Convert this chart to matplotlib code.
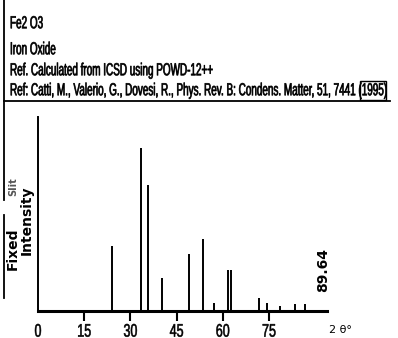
import matplotlib
matplotlib.use("Agg")
import matplotlib.pyplot as plt
from matplotlib import patheffects
from matplotlib.transforms import Affine2D

# Fe2O3 reference pattern (2-theta in degrees, relative intensity)
two_theta = [24.1, 33.6, 35.6, 40.3, 49.0, 53.5, 57.3, 61.6, 62.6,
             71.6, 74.2, 78.6, 83.5, 86.7]
intensity = [40, 100, 77, 20, 35, 44, 5, 25, 25, 8, 5, 3, 4, 4]
tick_values = [0, 15, 30, 45, 60, 75]
header_lines = [
    "Fe2 O3",
    "Iron Oxide",
    "Ref. Calculated from ICSD using POWD-12++",
    "Ref: Catti, M., Valerio, G., Dovesi, R., Phys. Rev. B: Condens. Matter, 51, 7441 (1995)",
]
peak_label = "89.64"


class Stretch(patheffects.AbstractPathEffect):
    """Scale the glyphs about a fixed display point (tall, narrow lettering)."""

    def __init__(self, sx, sy, anchor, stroke=0.0):
        super().__init__()
        self.sx, self.sy = sx, sy
        self.anchor = anchor
        self.stroke = stroke

    def draw_path(self, renderer, gc, tpath, affine, rgbFace=None):
        ax_, ay_ = self.anchor
        extra = (Affine2D().translate(-ax_, -ay_)
                 .scale(self.sx, self.sy).translate(ax_, ay_))
        renderer.draw_path(gc, tpath, affine + extra, rgbFace)
        if self.stroke > 0:
            gc0 = renderer.new_gc()
            gc0.copy_properties(gc)
            gc0.set_linewidth(self.stroke)
            renderer.draw_path(gc0, tpath, affine + extra, None)
            gc0.restore()


W, H = 398, 338
fig = plt.figure(figsize=(W / 100, H / 100), dpi=100)
fig.patch.set_facecolor("white")

# overlay axes in pixel coordinates (y downwards) for the page furniture
page = fig.add_axes([0, 0, 1, 1])
page.set_xlim(0, W)
page.set_ylim(H, 0)
page.axis("off")

# plot area: x=0 deg at px 38, 3.08 px per degree; baseline at px 311
px_per_deg = 3.08
x0_px, x1_px = 38, 327
base_px, top_px = 311, 117
ymax = 119
ax = fig.add_axes([x0_px / W, (H - base_px) / H,
                   (x1_px - x0_px) / W, (base_px - top_px) / H])
ax.set_xlim(0, (x1_px - x0_px) / px_per_deg)
ax.set_ylim(0, ymax)
ax.patch.set_alpha(0)

ax.vlines(two_theta, 0, intensity, color="black", linewidth=1.4)

for side in ["top", "right"]:
    ax.spines[side].set_visible(False)
ax.spines["bottom"].set_linewidth(2.2)
ax.spines["left"].set_linewidth(1.4)
ax.set_yticks([])
ax.set_xticks(tick_values)
ax.set_xticklabels([str(v) for v in tick_values], fontfamily="Liberation Sans",
                   fontsize=9)
ax.tick_params(axis="x", direction="out", length=7, width=1.5, pad=4)
ax.get_xticklines()[0].set_visible(False)

# header block
ys = [23, 49, 70, 90]
base_size = 12.5
header_texts = []
for y, line in zip(ys, header_lines):
    t = page.text(10, y, line, fontfamily="Liberation Sans", fontsize=base_size,
                  va="center", ha="left")
    header_texts.append(t)
page.plot([4, 390], [101, 101], color="black", linewidth=1.3)
page.plot([4, 4], [0, 200], color="black", linewidth=1.3)
page.plot([4, 4], [215, 298], color="black", linewidth=1.3)

# axis labels
page.text(13, 187, "Slit", rotation=90, ha="center", va="center",
          fontsize=7, fontweight="bold", color="#555555")
page.text(13, 249, "Fixed", rotation=90, ha="center", va="center",
          fontsize=10, fontweight="bold")
page.text(27, 220, "Intensity", rotation=90, ha="center", va="center",
          fontsize=10, fontweight="bold")
page.text(323, 270, peak_label, rotation=90, ha="center", va="center",
          fontsize=10, fontweight="bold")
page.text(340, 330, "2 θ°", ha="center", va="center", fontsize=8)

# shrink the header to fit the width, then stretch it back up vertically
fig.canvas.draw()
renderer = fig.canvas.get_renderer()
widest = header_texts[-1].get_window_extent(renderer).width
s = (388 - 10) / widest
for y, t in zip(ys, header_texts):
    t.set_fontsize(base_size * s)
    t.set_path_effects([Stretch(1.0, 1.0 / s, (10, H - y), stroke=0.5)])

fig.canvas.draw()
for lab in ax.get_xticklabels():
    bb = lab.get_window_extent(renderer)
    lab.set_path_effects([Stretch(1.0, 1.45, ((bb.x0 + bb.x1) / 2, (bb.y0 + bb.y1) / 2),
                                  stroke=0.4)])

# box round the year at the end of the citation
last = header_texts[-1].get_window_extent(renderer)
page.add_patch(plt.Rectangle((last.x1 - 24, 81), 26, 19, fill=False,
                             edgecolor="black", linewidth=1.0))

fig.savefig("out.png", dpi=100)
